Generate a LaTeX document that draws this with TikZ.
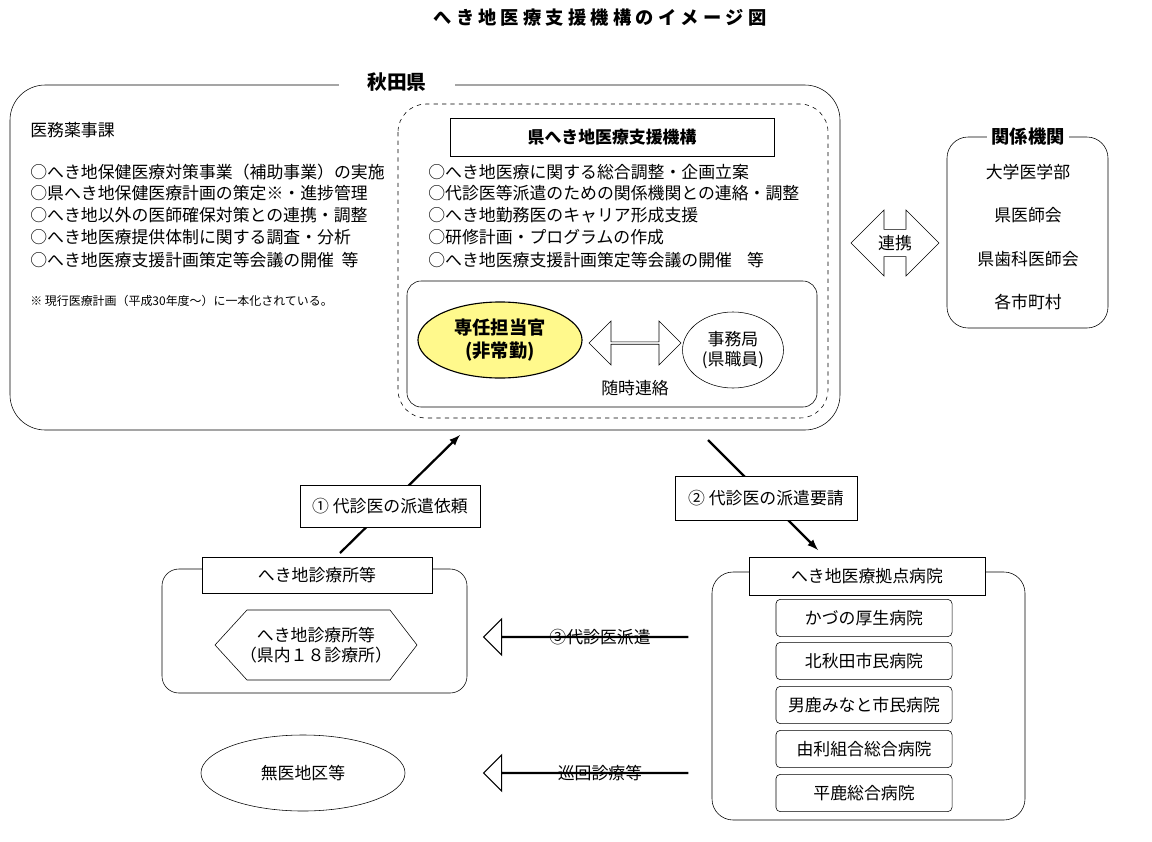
\documentclass[tikz,border=0pt]{standalone}
\usepackage{fontspec}
\setmainfont{Noto Sans CJK JP}
\usetikzlibrary{shapes.geometric,shapes.arrows}
\begin{document}
\begin{tikzpicture}[x=0.025cm,y=-0.025cm,
  txt/.style = {inner sep=0pt,anchor=west,font=\fontsize{12}{14}\selectfont},
  box/.style = {draw,fill=white,minimum height=0.95cm,font=\fontsize{12}{14}\selectfont},
  hosp/.style = {draw,rounded corners=3pt,minimum width=4.4cm,minimum height=0.93cm,font=\fontsize{12}{14}\selectfont},
  blk/.style = {draw,thick,single arrow,shape border rotate=180,minimum height=5.1cm,minimum width=0.9cm,single arrow head extend=0.37cm,single arrow head indent=0pt,inner sep=0pt},
  go/.style = {-latex,line width=1.6pt}]
  \useasboundingbox (0,0) rectangle (1152,842);
  \node (title) at (600,18) {\fontsize{13}{15}\selectfont\bfseries へ\ き\ 地\ 医\ 療\ 支\ 援\ 機\ 構\ の\ イ\ メ\ ー\ ジ\ 図};

  % Akita
  \draw[rounded corners=25pt] (10,85) rectangle (840,430);
  \node[fill=white,inner xsep=20pt,font=\fontsize{14}{16}\selectfont\bfseries] (akita) at (397,82) {秋田県};
  \node[txt] (imu) at (30,130) {医務薬事課};
  \node[txt] (l1) at (30,172) {○へき地保健医療対策事業（補助事業）の実施};
  \node[txt] (l2) at (30,193) {○県へき地保健医療計画の策定※・進捗管理};
  \node[txt] (l3) at (30,215) {○へき地以外の医師確保対策との連携・調整};
  \node[txt] (l4) at (30,237) {○へき地医療提供体制に関する調査・分析};
  \node[txt] (l5) at (30,260) {○へき地医療支援計画策定等会議の開催\ \ 等};
  \node[txt,font=\fontsize{8.5}{10}\selectfont] (note) at (30,301) {※ 現行医療計画（平成30年度～）に一本化されている。};

  % kikou
  \draw[dashed,rounded corners=20pt] (398,104) rectangle (828,418);
  \node[box,minimum width=8.1cm,font=\fontsize{12}{14}\selectfont\bfseries] (kikou) at (612,137) {県へき地医療支援機構};
  \node[txt] (c1) at (428,172) {○へき地医療に関する総合調整・企画立案};
  \node[txt] (c2) at (428,193) {○代診医等派遣のための関係機関との連絡・調整};
  \node[txt] (c3) at (428,215) {○へき地勤務医のキャリア形成支援};
  \node[txt] (c4) at (428,237) {○研修計画・プログラムの作成};
  \node[txt] (c5) at (428,260) {○へき地医療支援計画策定等会議の開催\ \ \ \ 等};
  \draw[rounded corners=10pt] (407,281) rectangle (817,407);
  \node[draw,thick,ellipse,fill=yellow!45,minimum width=4.1cm,minimum height=1.9cm,align=center,font=\fontsize{13}{16}\selectfont\bfseries] (tanto) at (500,340) {専任担当官\\(非常勤)};
  \node[draw,ellipse,minimum width=2cm,minimum height=1.9cm,align=center,font=\fontsize{12}{14}\selectfont] (jimu) at (733,350) {事務局\\(県職員)};
  \node[draw,double arrow,minimum height=2.3cm,minimum width=1.1cm,double arrow head extend=0.12cm,inner sep=0pt] (zuiji) at (635,343) {};
  \node[font=\fontsize{12}{14}\selectfont] (zlab) at (635,388) {随時連絡};

  % kankei
  \draw[rounded corners=15pt] (947,137) rectangle (1108,328);
  \node[fill=white,font=\fontsize{13}{15}\selectfont\bfseries] (kankei) at (1028,137) {関係機関};
  \foreach \y/\t in {172/大学医学部,215/県医師会,259/県歯科医師会,302/各市町村}
    \node[font=\fontsize{12}{14}\selectfont] at (1028,\y) {\t};
  \node[draw,double arrow,minimum height=2.2cm,minimum width=1.65cm,double arrow head extend=0.01cm,double arrow tip angle=90,inner sep=0pt] (renkei) at (895,243) {};
  \node[font=\fontsize{12}{14}\selectfont] (rlab) at (895,243) {連携};

  % clinics
  \draw[rounded corners=12pt] (162,569) rectangle (467,693);
  \node[box,minimum width=5.75cm,minimum height=0.9cm] (shinhdr) at (317,575) {へき地診療所等};
  \draw (215,645) -- (247,610) -- (390,610) -- (417,645) -- (390,680) -- (247,680) -- cycle;
  \node[align=center,font=\fontsize{12}{14}\selectfont] (shin) at (316,645) {へき地診療所等\\（県内１８診療所）};
  \node[draw,ellipse,minimum width=5.1cm,minimum height=1.9cm,font=\fontsize{12}{14}\selectfont] (muii) at (303,773) {無医地区等};

  % hospitals
  \draw[rounded corners=15pt] (712,572) rectangle (1025,820);
  \node[box,minimum width=5.9cm] (hosphdr) at (867,576) {へき地医療拠点病院};
  \foreach \y/\t/\n in {618/かづの厚生病院/h1,661/北秋田市民病院/h2,705/男鹿みなと市民病院/h3,749/由利組合総合病院/h4,793/平鹿総合病院/h5}
    \node[hosp] (\n) at (864,\y) {\t};

  % block arrows
  \node[blk] (haken) at (586,637) {};
  \node[font=\fontsize{12}{14}\selectfont] (hlab) at (600,637) {③代診医派遣};
  \node[blk] (junkai) at (586,773) {};
  \node[font=\fontsize{12}{14}\selectfont] (jlab) at (600,773) {巡回診療等};

  % requests
  \coordinate (s1) at (340,553); \coordinate (e1) at (460,435);
  \coordinate (s2) at (708,440); \coordinate (e2) at (818,550);
  \draw[go] (s1) -- (e1);
  \draw[go] (s2) -- (e2);
  \node[box,minimum width=4.5cm,minimum height=1.05cm] (irai) at (390,506) {① 代診医の派遣依頼};
  \node[box,minimum width=4.55cm,minimum height=1.1cm] (yosei) at (766,498) {② 代診医の派遣要請};
\end{tikzpicture}
\end{document}
